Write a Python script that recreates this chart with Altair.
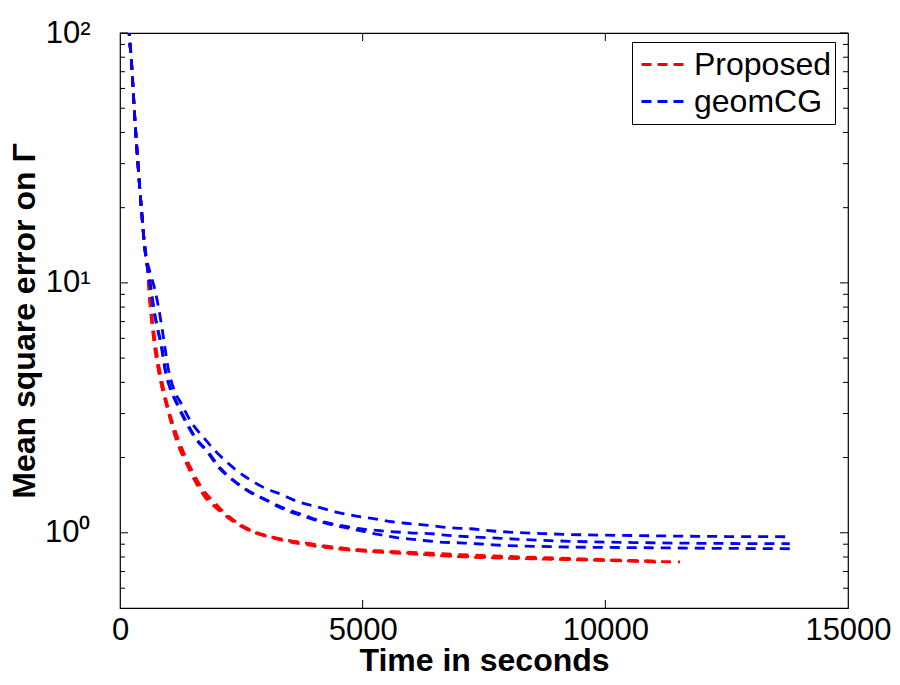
import altair as alt
import pandas as pd

# ---------------- data ----------------
methods = ["Proposed", "geomCG"]
colors = ["#ff0000", "#0000ff"]

r1_t = [170, 190, 230, 265, 295, 330, 370, 410, 450, 490, 530, 575, 600, 630, 670, 720, 783, 865, 968, 1071,
        1195, 1360, 1545, 1751, 2019, 2328, 2720, 3132, 3502, 3914, 4264, 4636, 5006, 5418, 5830, 6242, 6654,
        7066, 7478, 8180, 9680, 11127, 11540]
r1_v = [125, 100, 80, 62, 49, 38.5, 30, 23.5, 18.8, 15.2, 12.8, 11.0, 9.2, 7.7, 6.5, 5.4, 4.57, 3.81, 3.19, 2.68,
        2.25, 1.91, 1.61, 1.39, 1.24, 1.11, 1.01, 0.96, 0.929, 0.904, 0.875, 0.858, 0.847, 0.839, 0.832, 0.820, 0.808,
        0.801, 0.795, 0.789, 0.778, 0.767, 0.764]

r2_t = [170, 190, 230, 265, 295, 330, 370, 410, 450, 490, 530, 575, 610, 650, 700, 760, 830, 920, 1030, 1150,
        1300, 1480, 1700, 1960, 2250, 2600, 3000, 3400, 3900, 4500, 5200, 6000, 7000, 8000, 9000, 10000, 11150]
r2_v = [125, 100, 80, 62, 49, 38.5, 30, 23.5, 18.8, 15.2, 12.8, 11.0, 9.0, 7.5, 6.3, 5.2, 4.35, 3.6, 2.98, 2.52,
        2.12, 1.78, 1.50, 1.31, 1.16, 1.04, 0.970, 0.928, 0.892, 0.861, 0.840, 0.823, 0.806, 0.795, 0.785, 0.776,
        0.762]

r3_t = [170, 190, 230, 265, 295, 330, 370, 410, 450, 490, 530, 575, 605, 640, 685, 740, 800, 885, 990, 1100,
        1230, 1400, 1590, 1800, 2080, 2400, 2800, 3200, 3600, 4100, 4700, 5400, 6200, 7000, 8000, 9000, 10000, 11100]
r3_v = [125, 100, 80, 62, 49, 38.5, 30, 23.5, 18.8, 15.2, 12.8, 11.0, 9.1, 7.6, 6.4, 5.3, 4.45, 3.7, 3.1, 2.6,
        2.2, 1.86, 1.58, 1.38, 1.22, 1.10, 1.005, 0.955, 0.922, 0.893, 0.864, 0.846, 0.832, 0.818, 0.804, 0.792,
        0.781, 0.770]

b1_t = [170, 190, 230, 265, 295, 330, 370, 410, 450, 490, 540, 620, 721, 803, 865, 927, 989, 1092, 1277, 1463,
        1710, 1990, 2266, 2576, 2926, 3338, 3668, 4059, 4430, 4842, 5254, 5604, 6016, 6428, 6799, 7211, 7623,
        8860, 10920, 12500, 13800]
b1_v = [125, 100, 80, 62, 49, 38.5, 30, 23.5, 18.8, 15.2, 12.8, 11.0, 9.36, 7.8, 6.6, 5.5, 4.6, 3.84, 3.25, 2.78,
        2.42, 2.10, 1.87, 1.68, 1.53, 1.419, 1.331, 1.27, 1.213, 1.169, 1.137, 1.107, 1.086, 1.067, 1.047, 1.038,
        1.019, 0.99, 0.973, 0.966, 0.964]

b2_t = [170, 190, 230, 265, 295, 330, 370, 410, 450, 490, 530, 590, 650, 710, 783, 865, 927, 1030, 1195, 1381,
        1545, 1813, 2060, 2328, 2679, 3029, 3358, 3770, 4182, 4573, 4944, 5356, 5974, 6428, 6840, 7211, 7623,
        8860, 10920, 12500, 13800]
b2_v = [125, 100, 80, 62, 49, 38.5, 30, 23.5, 18.8, 15.2, 12.8, 11.0, 9.2, 7.65, 6.49, 5.5, 4.57, 3.84, 3.25, 2.75,
        2.42, 2.11, 1.82, 1.63, 1.46, 1.35, 1.26, 1.18, 1.107, 1.067, 1.038, 1.019, 1.0, 0.991, 0.973, 0.964,
        0.955, 0.93, 0.912, 0.906, 0.904]

b3_t = [170, 190, 230, 265, 295, 330, 370, 410, 450, 490, 530, 585, 640, 700, 775, 855, 920, 1020, 1180, 1365,
        1530, 1795, 2040, 2310, 2660, 3010, 3340, 3750, 4182, 4573, 4944, 5356, 5727, 6118, 6530, 6942, 7354,
        7684, 8860, 10920, 12500, 13900]
b3_v = [125, 100, 80, 62, 49, 38.5, 30, 23.5, 18.8, 15.2, 12.8, 11.0, 9.2, 7.65, 6.49, 5.5, 4.57, 3.84, 3.25, 2.75,
        2.42, 2.11, 1.82, 1.63, 1.46, 1.35, 1.25, 1.17, 1.10, 1.055, 1.02, 0.982, 0.955, 0.938, 0.920, 0.912, 0.904,
        0.895, 0.88, 0.871, 0.866, 0.863]

x_tick_values = [0, 5000, 10000, 15000]
y_major_ticks = [1, 10, 100]
y_minor_ticks = [0.6, 0.7, 0.8, 0.9, 2, 3, 4, 5, 6, 7, 8, 9, 20, 30, 40, 50, 60, 70, 80, 90]
x_inner_ticks = [5000, 10000]

# ---------------- build tables ----------------
series = [
    ("Proposed", "r1", r1_t, r1_v),
    ("Proposed", "r2", r2_t, r2_v),
    ("Proposed", "r3", r3_t, r3_v),
    ("geomCG", "b1", b1_t, b1_v),
    ("geomCG", "b2", b2_t, b2_v),
    ("geomCG", "b3", b3_t, b3_v),
]
rows = []
for m, run, ts, vs in series:
    for i, (t, v) in enumerate(zip(ts, vs)):
        rows.append({"t": t, "v": v, "method": m, "run": run, "i": i})
df = pd.DataFrame(rows)

W, H = 728, 575
FONT = "Liberation Sans"

xscale = alt.Scale(domain=[0, 15000], nice=False, zero=False)
yscale = alt.Scale(type="log", domain=[0.5, 100], nice=False)

label_expr = ("datum.value == 1 ? '10\u2070' : datum.value == 10 ? '10\u00b9' : "
              "datum.value == 100 ? '10\u00b2' : ''")

lines = alt.Chart(df).mark_line(
    clip=True, strokeWidth=2.8, strokeDash=[10, 7], interpolate="monotone"
).encode(
    x=alt.X("t:Q", scale=xscale,
            axis=alt.Axis(values=x_tick_values, title="Time in seconds", format="d",
                          ticks=False, domain=False, grid=False, labelFlush=False,
                          labelFont=FONT, labelFontSize=31, labelColor="black", labelPadding=7,
                          titleFont=FONT, titleFontSize=32, titleFontWeight="bold",
                          titleColor="black", titlePadding=0)),
    y=alt.Y("v:Q", scale=yscale,
            axis=alt.Axis(values=y_major_ticks, labelExpr=label_expr, title="Mean square error on \u0393",
                          ticks=False, domain=False, grid=False, labelFlush=False,
                          labelFont=FONT, labelFontSize=31, labelColor="black", labelPadding=30,
                          titleFont=FONT, titleFontSize=32, titleFontWeight="bold",
                          titleColor="black", titlePadding=3)),
    color=alt.Color("method:N",
                    scale=alt.Scale(domain=methods, range=colors),
                    sort=methods,
                    legend=alt.Legend(title=None, orient="none", legendX=512, legendY=9,
                                      symbolType="stroke", symbolSize=1764, symbolStrokeWidth=2.8,
                                      symbolDash=[10, 6], labelFont=FONT, labelFontSize=32,
                                      labelColor="black", labelOffset=9, clipHeight=37,
                                      rowPadding=0, padding=4, fillColor="white",
                                      strokeColor="black", symbolOffset=4)),
    detail="run:N",
    order="i:Q",
)

ymaj = pd.DataFrame({"v": y_major_ticks})
ymin = pd.DataFrame({"v": y_minor_ticks})
xin = pd.DataFrame({"t": x_inner_ticks})

def yticks(data, length):
    left = alt.Chart(data).mark_rule(color="black", strokeWidth=1).encode(
        y=alt.Y("v:Q", scale=yscale), x=alt.value(0), x2=alt.value(length))
    right = alt.Chart(data).mark_rule(color="black", strokeWidth=1).encode(
        y=alt.Y("v:Q", scale=yscale), x=alt.value(W - length), x2=alt.value(W))
    return left + right

xt_bottom = alt.Chart(xin).mark_rule(color="black", strokeWidth=1).encode(
    x=alt.X("t:Q", scale=xscale), y=alt.value(H - 8), y2=alt.value(H))
xt_top = alt.Chart(xin).mark_rule(color="black", strokeWidth=1).encode(
    x=alt.X("t:Q", scale=xscale), y=alt.value(0), y2=alt.value(8))

chart = alt.layer(
    lines, yticks(ymaj, 8), yticks(ymin, 5), xt_bottom, xt_top
).properties(
    width=W, height=H,
    autosize=alt.AutoSizeParams(type="none"),
    padding={"left": 112, "top": 25, "right": 44, "bottom": 69},
).configure(
    background="white"
).configure_view(
    stroke="black", strokeWidth=1.2
)

chart.save("out.html", embed_options={"renderer": "svg", "actions": False})
